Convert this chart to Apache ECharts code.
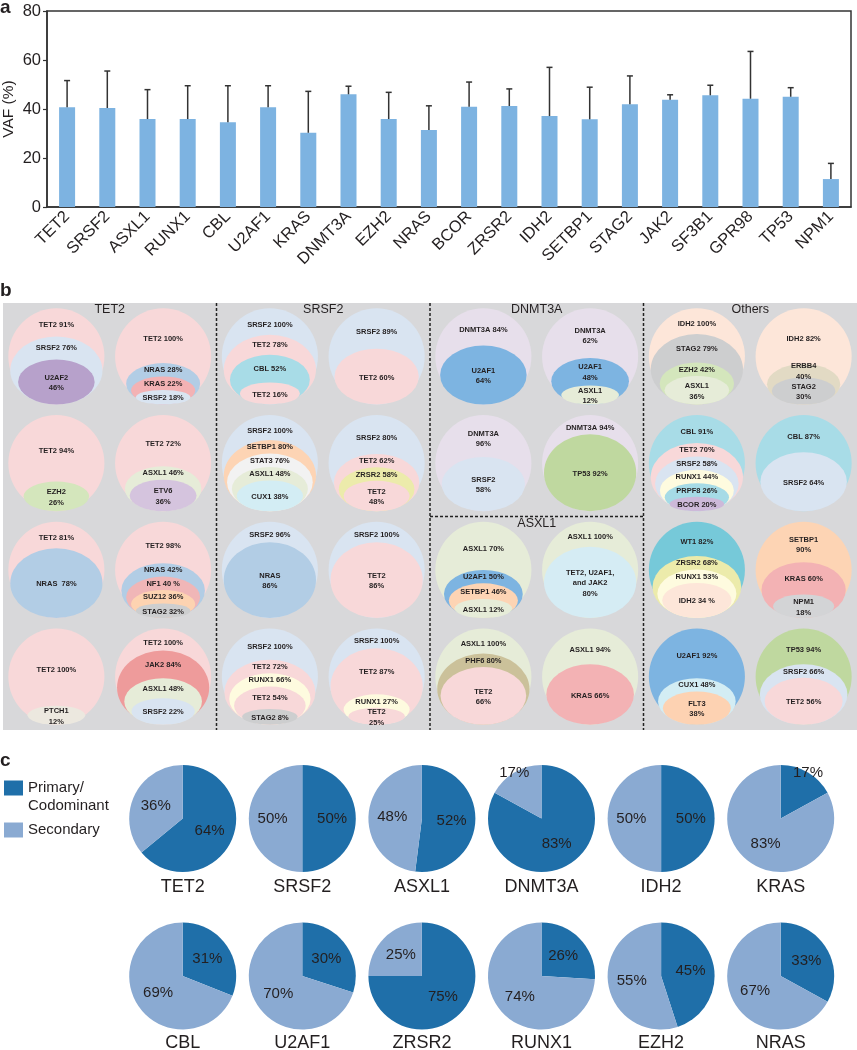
<!DOCTYPE html>
<html><head><meta charset="utf-8">
<script src="https://cdn.jsdelivr.net/npm/echarts@6/dist/echarts.min.js"></script>
<style>html,body{margin:0;padding:0;background:#fff}#c{width:857px;height:1050px}</style>
</head><body><div id="c"></div>
<script>
// ---------- Panel a data ----------
const vafGenes = ['TET2','SRSF2','ASXL1','RUNX1','CBL','U2AF1','KRAS','DNMT3A','EZH2','NRAS','BCOR','ZRSR2','IDH2','SETBP1','STAG2','JAK2','SF3B1','GPR98','TP53','NPM1'];
const vafMean  = [40.7,40.4,35.9,35.9,34.6,40.7,30.3,46.0,35.9,31.4,40.9,41.2,37.1,35.8,41.9,43.8,45.6,44.2,45.0,11.4];
const vafUpper = [51.6,55.5,47.9,49.5,49.5,49.5,47.2,49.3,46.8,41.3,51.0,48.2,57.0,48.9,53.5,45.8,49.7,63.5,48.7,17.8];

// ---------- Panel b data ----------
const groupTitles = ['TET2','SRSF2','DNMT3A','ASXL1','Others'];
const tet2Diagrams = [
  ['TET2 91%','SRSF2 76%','U2AF2\n46%'],
  ['TET2 100%','NRAS 28%','KRAS 22%','SRSF2 18%'],
  ['TET2 94%','EZH2\n26%'],
  ['TET2 72%','ASXL1 46%','ETV6\n36%'],
  ['TET2 81%','NRAS  78%'],
  ['TET2 98%','NRAS 42%','NF1 40 %','SUZ12 36%','STAG2 32%'],
  ['TET2 100%','PTCH1\n12%'],
  ['TET2 100%','JAK2 84%','ASXL1 48%','SRSF2 22%']
];
const srsf2Diagrams = [
  ['SRSF2 100%','TET2 78%','CBL 52%','TET2 16%'],
  ['SRSF2 89%','TET2 60%'],
  ['SRSF2 100%','SETBP1 80%','STAT3 76%','ASXL1 48%','CUX1 38%'],
  ['SRSF2 80%','TET2 62%','ZRSR2 58%','TET2\n48%'],
  ['SRSF2 96%','NRAS\n86%'],
  ['SRSF2 100%','TET2\n86%'],
  ['SRSF2 100%','TET2 72%','RUNX1 66%','TET2 54%','STAG2 8%'],
  ['SRSF2 100%','TET2 87%','RUNX1 27%','TET2\n25%']
];
const dnmt3aDiagrams = [
  ['DNMT3A 84%','U2AF1\n64%'],
  ['DNMT3A\n62%','U2AF1\n48%','ASXL1\n12%'],
  ['DNMT3A\n96%','SRSF2\n58%'],
  ['DNMT3A 94%','TP53 92%']
];
const asxl1Diagrams = [
  ['ASXL1 70%','U2AF1 50%','SETBP1 46%','ASXL1 12%'],
  ['ASXL1 100%','TET2, U2AF1,\nand JAK2\n80%'],
  ['ASXL1 100%','PHF6 80%','TET2\n66%'],
  ['ASXL1 94%','KRAS 66%']
];
const otherDiagrams = [
  ['IDH2 100%','STAG2 79%','EZH2 42%','ASXL1\n36%'],
  ['IDH2 82%','ERBB4\n40%','STAG2\n30%'],
  ['CBL 91%','TET2 70%','SRSF2 58%','RUNX1 44%','PRPF8 26%','BCOR 20%'],
  ['CBL 87%','SRSF2 64%'],
  ['WT1 82%','ZRSR2 68%','RUNX1 53%','IDH2 34 %'],
  ['SETBP1\n90%','KRAS 60%','NPM1\n18%'],
  ['U2AF1 92%','CUX1 48%','FLT3\n38%'],
  ['TP53 94%','SRSF2 66%','TET2 56%']
];

// ---------- Panel c data ----------
const pieGenesRow1 = ['TET2','SRSF2','ASXL1','DNMT3A','IDH2','KRAS'];
const piePrimaryRow1 = [64,50,52,83,50,17];
const pieSecondaryRow1 = [36,50,48,17,50,83];
const pieGenesRow2 = ['CBL','U2AF1','ZRSR2','RUNX1','EZH2','NRAS'];
const piePrimaryRow2 = [31,30,75,26,45,33];
const pieSecondaryRow2 = [69,70,25,74,55,67];
const pieCategories = ['Primary/\nCodominant','Secondary'];

// ---------- styles ----------
const FONT = 'Liberation Sans, Arial, Helvetica, sans-serif';
const TXT = '#231f20';
const BAR_COLOR = '#7db3e1';
const PIE_COLORS = ['#1f6fa9','#8aaad2'];
const geneColors = {
  'TET2':'#f8d8d9','SRSF2':'#d9e4f1','U2AF2':'#b7a1cb','NRAS':'#b2cde5','KRAS':'#f3b2b4',
  'EZH2':'#d4e6bc','ASXL1':'#e6ecd8','ETV6':'#d5c4de','NF1':'#f0b6b7','SUZ12':'#fdd3b1',
  'STAG2':'#cdcecf','PTCH1':'#ece8df','JAK2':'#ee9b9b','CBL':'#a8dce7','SETBP1':'#fdd4b4',
  'STAT3':'#f2f2f2','CUX1':'#d3edf4','ZRSR2':'#ecebab','RUNX1':'#fefbdf','DNMT3A':'#e7dfeb',
  'U2AF1':'#7db4e1','TP53':'#bfd89f','PHF6':'#cbc19a','IDH2':'#fde6d9','ERBB4':'#e2dac4',
  'PRPF8':'#a6dbe6','BCOR':'#cdb9d9','WT1':'#76c9d9','FLT3':'#fdd2b2','NPM1':'#d3d4d6',
  'TET2, U2AF1, and JAK2':'#d5ecf4'
};
function geneOf(lbl){ return lbl.replace(/\n/g,' ').replace(/\s*\d+\s*%\s*$/,'').replace(/\s+/g,' ').trim(); }
function pctOf(lbl){ const m = lbl.match(/(\d+)\s*%/); return m ? +m[1] : 0; }

// group placement in panel b (column / row units)
const groupDiagrams = [tet2Diagrams, srsf2Diagrams, dnmt3aDiagrams, asxl1Diagrams, otherDiagrams];
const groupPlace = [[0,0,4],[2,0,4],[4,0,2],[4,2,2],[6,0,4]]; // startCol, startRow, rows

const diagramData = [];
groupDiagrams.forEach((list, g) => {
  list.forEach((d, k) => {
    diagramData.push([groupPlace[g][0] + (k % 2), groupPlace[g][1] + Math.floor(k / 2), g, k]);
  });
});
const groupData = groupPlace.map((p, g) => [p[0], p[1], p[2], g]);

function layerHeights(pcts){
  const n = pcts.length;
  const h = pcts.map(p => Math.min(0.8, Math.max(0.15, 0.1 + 0.8 * p / 100)));
  for (let j = 1; j < n; j++) h[j] = Math.min(h[j], h[j-1] - 0.14);
  if (n) h[n-1] = Math.max(h[n-1], 0.15);
  for (let j = n - 2; j >= 0; j--) h[j] = Math.max(h[j], h[j+1] + 0.14);
  return h;
}

function renderDiagram(params, api){
  const col = api.value(0), row = api.value(1), g = api.value(2), k = api.value(3);
  const layers = groupDiagrams[g][k];
  const c = api.coord([col, row]);
  const s = api.size([1, 1]);
  const W = s[0] * 0.9, H = s[1] * 0.9;
  const top = c[1] - H / 2, bottom = c[1] + H / 2;
  const inner = layers.slice(1).map(pctOf);
  const hs = layerHeights(inner);
  const children = [];
  const ell = (cx, cy, rx, ry, color) => ({
    type: 'circle', x: cx, y: cy, scaleY: ry / rx,
    shape: {cx: 0, cy: 0, r: rx}, style: {fill: color}
  });
  children.push(ell(c[0], c[1], W / 2, H / 2, geneColors[geneOf(layers[0])]));
  const tops = [top];
  hs.forEach((h) => {
    const ry = h * H / 2;
    const rx = Math.min(0.96, 0.46 + 0.72 * h) * W / 2;
    children.push(ell(c[0], bottom - ry, rx, ry, geneColors[geneOf(layers[tops.length])]));
    tops.push(bottom - h * H);
  });
  layers.forEach((lbl, j) => {
    let y;
    if (j < layers.length - 1) y = (tops[j] + tops[j+1]) / 2 + (j === 0 ? 3 : 0.5);
    else y = (tops[j] + bottom) / 2 + (j === 0 ? 0 : 1);
    children.push({
      type: 'text', x: c[0], y: y,
      style: {text: lbl, fill: TXT, fontSize: 7.5, fontWeight: 'bold', fontFamily: FONT,
              align: 'center', verticalAlign: 'middle', lineHeight: 10.5}
    });
  });
  return {type: 'group', children: children};
}

function renderGroupFrame(params, api){
  const sc = api.value(0), sr = api.value(1), nr = api.value(2), g = api.value(3);
  const children = [];
  const tp = api.coord([sc + 0.5, sr - 0.5]);
  children.push({type: 'text', x: tp[0], y: tp[1] + 7, z2: 10,
    style: {text: groupTitles[g], fill: TXT, fontSize: 12.5, fontFamily: FONT, align: 'center', verticalAlign: 'middle'}});
  const dash = {stroke: '#222', lineWidth: 1.5, lineDash: [3, 2]};
  if (sc > 0 && sr === 0) {
    const a = api.coord([sc - 0.5, -0.5]), b = api.coord([sc - 0.5, 3.5]);
    children.push({type: 'line', shape: {x1: a[0], y1: a[1], x2: b[0], y2: b[1]}, style: dash});
  }
  if (sr > 0) {
    const a = api.coord([sc - 0.5, sr - 0.5]), b = api.coord([sc + 1.5, sr - 0.5]);
    children.push({type: 'line', shape: {x1: a[0], y1: a[1], x2: b[0], y2: b[1]}, style: dash});
  }
  return {type: 'group', children: children};
}

// ---------- pies ----------
const PIE_R = 53.5;
const pieX0 = 182.7, pieDX = 119.6, pieY = [818.5, 976];
const pieSeries = [], pieTitles = [];
[[pieGenesRow1, piePrimaryRow1, pieSecondaryRow1], [pieGenesRow2, piePrimaryRow2, pieSecondaryRow2]].forEach((rowSet, r) => {
  rowSet[0].forEach((gene, i) => {
    const cx = pieX0 + i * pieDX, cy = pieY[r];
    const vals = [rowSet[1][i], rowSet[2][i]];
    pieSeries.push({
      type: 'pie', name: gene, center: [cx, cy], radius: PIE_R, startAngle: 90, clockwise: true,
      silent: true, avoidLabelOverlap: false,
      data: pieCategories.map((nm, j) => ({name: nm, value: vals[j], itemStyle: {color: PIE_COLORS[j]}})),
      label: {show: true, position: 'inside', formatter: '{c}%', fontSize: 15, color: TXT, fontFamily: FONT},
      labelLine: {show: false},
      labelLayout: function(p){
        if (vals[p.dataIndex] >= 20) return {};
        const lx = p.labelRect.x + p.labelRect.width / 2, ly = p.labelRect.y + p.labelRect.height / 2;
        return {dx: (lx - cx) * 0.8, dy: (ly - cy) * 0.8};
      },
      itemStyle: {borderWidth: 0}
    });
    pieTitles.push({text: gene, left: cx, top: r === 0 ? 878 : 1034, textAlign: 'center', padding: 0,
      textStyle: {fontSize: 18, fontWeight: 'normal', color: TXT, fontFamily: FONT}});
  });
});

const chart = echarts.init(document.getElementById('c'), null, {renderer: 'canvas'});
chart.setOption({
  animation: false,
  backgroundColor: '#fff',
  textStyle: {fontFamily: FONT},
  title: [
    {text: 'a', left: 0, top: -2, padding: 0, textStyle: {fontSize: 19, fontWeight: 'bold', color: TXT, fontFamily: FONT}},
    {text: 'b', left: 0, top: 281, padding: 0, textStyle: {fontSize: 19, fontWeight: 'bold', color: TXT, fontFamily: FONT}},
    {text: 'c', left: 0, top: 751, padding: 0, textStyle: {fontSize: 19, fontWeight: 'bold', color: TXT, fontFamily: FONT}}
  ].concat(pieTitles),
  legend: {
    orient: 'vertical', left: 4, top: 761, padding: 0, itemWidth: 19, itemHeight: 15, itemGap: 6,
    icon: 'rect', selectedMode: false,
    textStyle: {fontSize: 15, lineHeight: 18, color: TXT, fontFamily: FONT},
    formatter: function(name){ return name.indexOf('\n') >= 0 ? ' \n' + name : name; },
    data: pieCategories
  },
  grid: [
    {left: 47, right: 6, top: 11, bottom: 843, show: true, borderColor: '#333', borderWidth: 1.5,
     backgroundColor: 'transparent', outerBoundsMode: 'none', containLabel: false},
    {left: 3, right: 0, top: 303, height: 427, show: true, backgroundColor: '#d8d8da', borderWidth: 0,
     outerBoundsMode: 'none', containLabel: false}
  ],
  xAxis: [
    {type: 'category', gridIndex: 0, data: vafGenes, boundaryGap: true,
     axisLine: {lineStyle: {color: '#333', width: 1.5}}, axisTick: {show: false},
     axisLabel: {rotate: 45, interval: 0, fontSize: 16.5, color: TXT, margin: 7, fontFamily: FONT},
     splitLine: {show: false}},
    {type: 'value', gridIndex: 1, min: -0.5, max: 7.5, show: false}
  ],
  yAxis: [
    {type: 'value', gridIndex: 0, min: 0, max: 80, interval: 20,
     name: 'VAF (%)', nameLocation: 'middle', nameGap: 30, nameRotate: 90, nameMoveOverlap: false,
     nameTextStyle: {fontSize: 15.5, color: TXT, fontFamily: FONT},
     axisLine: {show: true, lineStyle: {color: '#333', width: 1.5}},
     axisTick: {show: true, length: 4, lineStyle: {color: '#333', width: 1.2}},
     axisLabel: {fontSize: 16.5, color: TXT, margin: 6, fontFamily: FONT},
     splitLine: {show: false}},
    {type: 'value', gridIndex: 1, min: -0.5, max: 3.5, inverse: true, show: false}
  ],
  series: [
    {type: 'bar', xAxisIndex: 0, yAxisIndex: 0, data: vafMean, barWidth: 16, silent: true,
     itemStyle: {color: BAR_COLOR}},
    {type: 'custom', xAxisIndex: 0, yAxisIndex: 0, silent: true, z: 5,
     data: vafGenes.map((g, i) => [i, vafMean[i], vafUpper[i]]),
     renderItem: function(params, api){
       const p0 = api.coord([api.value(0), api.value(1)]);
       const p1 = api.coord([api.value(0), api.value(2)]);
       const st = {stroke: '#333', lineWidth: 1.5};
       return {type: 'group', children: [
         {type: 'line', shape: {x1: p0[0], y1: p0[1], x2: p1[0], y2: p1[1]}, style: st},
         {type: 'line', shape: {x1: p1[0] - 3, y1: p1[1], x2: p1[0] + 3, y2: p1[1]}, style: st}
       ]};
     }},
    {type: 'custom', xAxisIndex: 1, yAxisIndex: 1, silent: true, z: 3, clip: false,
     data: diagramData, renderItem: renderDiagram},
    {type: 'custom', xAxisIndex: 1, yAxisIndex: 1, silent: true, z: 6, clip: false,
     data: groupData, renderItem: renderGroupFrame}
  ].concat(pieSeries)
});
</script>
</body></html>
